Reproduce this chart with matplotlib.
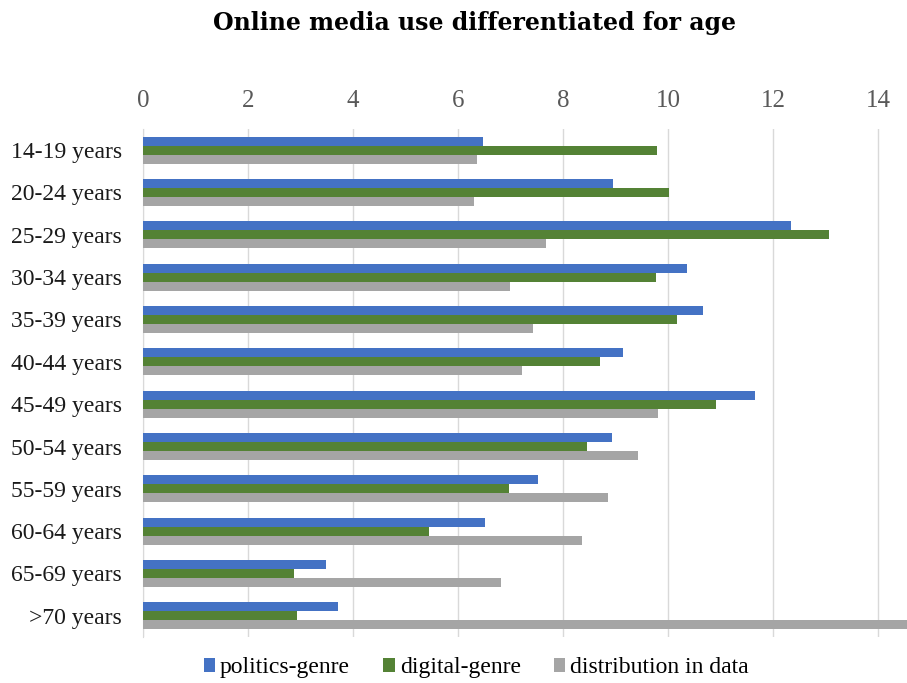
import matplotlib.pyplot as plt
import numpy as np

ages = ['14-19 years', '20-24 years', '25-29 years', '30-34 years', '35-39 years',
        '40-44 years', '45-49 years', '50-54 years', '55-59 years', '60-64 years',
        '65-69 years', '>70 years']
politics = [6.48, 8.95, 12.34, 10.36, 10.67, 9.14, 11.66, 8.93, 7.52, 6.52, 3.48, 3.72]
digital = [9.79, 10.02, 13.07, 9.77, 10.17, 8.70, 10.91, 8.46, 6.97, 5.44, 2.88, 2.94]
distribution = [6.37, 6.30, 7.68, 6.99, 7.43, 7.22, 9.81, 9.43, 8.86, 8.37, 6.81, 16.0]

fig = plt.figure(figsize=(9.07, 6.83), dpi=100)
ax = fig.add_axes([143/907, 1 - 637/683, 1 - 143/907, (637 - 129)/683])

y = np.arange(len(ages))
h = 0.21
ax.barh(y - h, politics, height=h, color='#4472c4', label='politics-genre', zorder=3)
ax.barh(y, digital, height=h, color='#548235', label='digital-genre', zorder=3)
ax.barh(y + h, distribution, height=h, color='#a5a5a5', label='distribution in data', zorder=3)

ax.set_xlim(0, 764/52.5)
ax.set_ylim(len(ages) - 0.5, -0.5)
ax.set_xticks(range(0, 15, 2))
ax.xaxis.tick_top()
ax.tick_params(axis='x', length=0, pad=12, labelsize=18, labelcolor='#595959')
ax.tick_params(axis='y', length=0, pad=15, labelsize=17, labelcolor='#1a1a1a')
ax.set_yticks(y)
ax.set_yticklabels(ages)
for lab in ax.get_xticklabels() + ax.get_yticklabels():
    lab.set_family('Liberation Serif')
ax.grid(axis='x', color='#d9d9d9', linewidth=1, zorder=0)
for s in ['top', 'right', 'bottom']:
    ax.spines[s].set_visible(False)
ax.spines['left'].set_color('#d9d9d9')

fig.text(0.523, 0.966, 'Online media use differentiated for age', ha='center', va='center',
         fontsize=17, fontweight='bold', family='DejaVu Serif')

fig.legend(loc='center', bbox_to_anchor=(0.525, 0.022), ncol=3, frameon=False,
           prop={'family': 'Liberation Serif', 'size': 17}, handlelength=0.5,
           handleheight=0.5, handletextpad=0.2, columnspacing=1.4)

fig.savefig('out.png', dpi=100)
